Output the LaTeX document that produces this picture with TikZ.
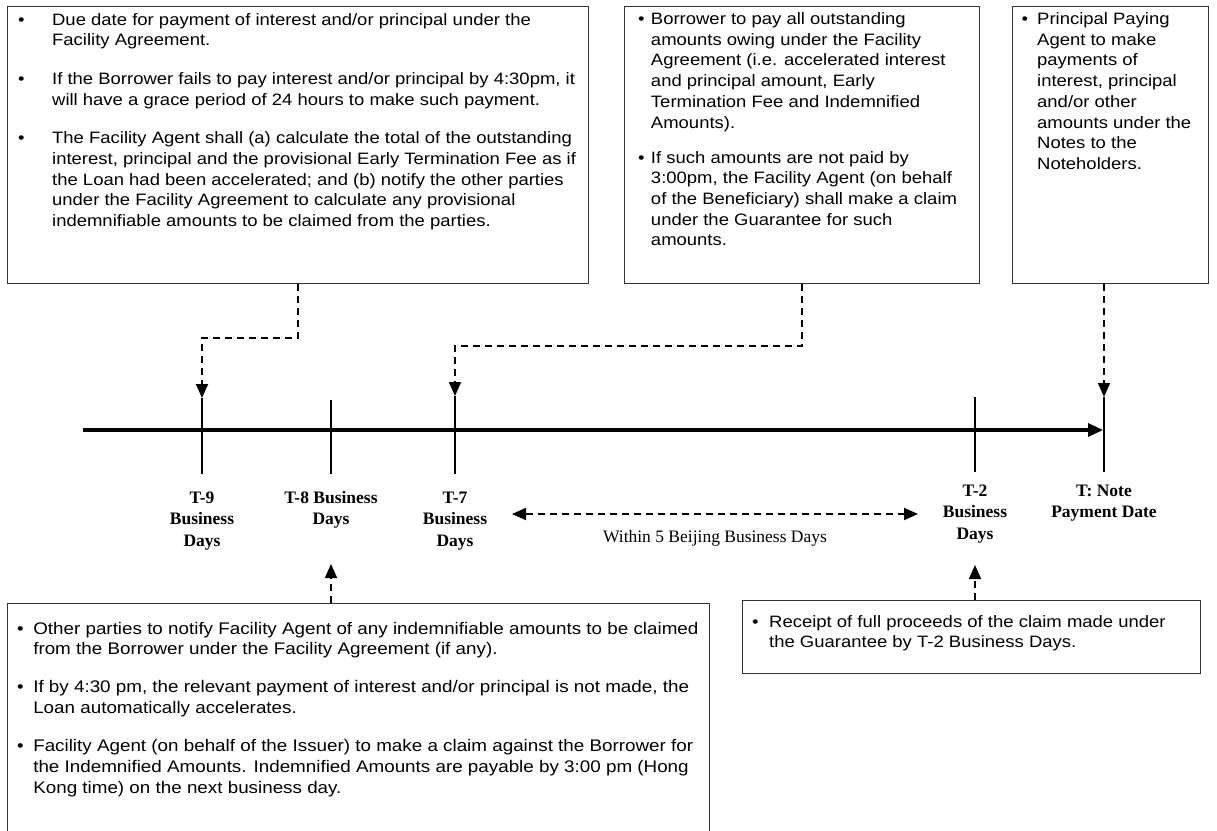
\documentclass[tikz,border=0pt]{standalone}
\usepackage{fontspec}
\setmainfont{Liberation Serif}
\newfontfamily\boxfont[FakeStretch=1.12]{Liberation Sans}
\usetikzlibrary{arrows.meta}

% text set inside the call-out boxes
\newcommand\boxsize{\boxfont\fontsize{16.5}{20.7}\selectfont}
\newcommand\wideboxsize{\boxfont\fontsize{16.8}{20.7}\selectfont}

\begin{document}
\begin{tikzpicture}[x=1pt,y=-1pt,
  calloutbox/.style={draw=black!80, line width=1.1pt, anchor=north west, inner sep=0pt, fill=white},
  boxtext/.style={anchor=base west, inner sep=0pt, font=\boxsize},
  daylabel/.style={anchor=base, inner sep=0pt, font=\fontsize{17.5}{21.8}\selectfont\bfseries},
  axisline/.style={line width=3.2pt, -{Triangle[length=15pt,width=13pt]}},
  tickline/.style={line width=1.8pt},
  leader/.style={line width=1.8pt, dash pattern=on 7pt off 5pt, -{Triangle[length=14pt,width=12pt]}},
  spanline/.style={line width=1.8pt, dash pattern=on 7pt off 5pt,
    {Triangle[length=14pt,width=12pt]}-{Triangle[length=14pt,width=12pt]}}
]
\useasboundingbox (0,0) rectangle (1217,830);
\clip (0,0) rectangle (1217,830);
\fill[white] (0,0) rectangle (1217,830);

% ---- time axis and day ticks ----
\coordinate (axS) at (83,430);
\coordinate (axE) at (1103,430);
\draw[axisline] (axS) -- (axE);

\coordinate (t9u) at (202,398);  \coordinate (t9d) at (202,474);
\coordinate (t8u) at (331,400);  \coordinate (t8d) at (331,474);
\coordinate (t7u) at (455,396);  \coordinate (t7d) at (455,474);
\coordinate (t2u) at (975,397);  \coordinate (t2d) at (975,472);
\coordinate (tTu) at (1104,397); \coordinate (tTd) at (1104,472);
\foreach \t in {9,8,7,2,T} \draw[tickline] (t\t u) -- (t\t d);

% ---- day labels ----
\node[daylabel] (l9) at (202,503) {\begin{tabular}[t]{@{}c@{}}T-9\\Business\\Days\end{tabular}};
\node[daylabel] (l8) at (331,503) {\begin{tabular}[t]{@{}c@{}}T-8 Business\\Days\end{tabular}};
\node[daylabel] (l7) at (455,503) {\begin{tabular}[t]{@{}c@{}}T-7\\Business\\Days\end{tabular}};
\node[daylabel] (l2) at (975,496) {\begin{tabular}[t]{@{}c@{}}T-2\\Business\\Days\end{tabular}};
\node[daylabel] (lT) at (1104,496) {\begin{tabular}[t]{@{}c@{}}T: Note\\Payment Date\end{tabular}};

% ---- five-day window between T-7 and T-2 ----
\coordinate (w1) at (512,514);
\coordinate (w2) at (918,514);
\draw[spanline] (w1) -- (w2);
\node[anchor=base, inner sep=0pt, font=\fontsize{17.5}{21}\selectfont] (win) at (715,542) {Within 5 Beijing Business Days};

% ---- call-out boxes ----
\node[calloutbox, minimum width=581pt, minimum height=277pt] (b1) at (7,6) {};
\node[boxtext] (b1t) at (17.8,25) {\begin{tabular}[t]{@{}l@{\hspace{27.7pt}}l@{}}
\textbullet & Due date for payment of interest and/or principal under the\\
 & Facility Agreement.\\[18pt]
\textbullet & If the Borrower fails to pay interest and/or principal by 4:30pm, it\\
 & will have a grace period of 24 hours to make such payment.\\[18pt]
\textbullet & The Facility Agent shall (a) calculate the total of the outstanding\\
 & interest, principal and the provisional Early Termination Fee as if\\
 & the Loan had been accelerated; and (b) notify the other parties\\
 & under the Facility Agreement to calculate any provisional\\
 & indemnifiable amounts to be claimed from the parties.
\end{tabular}};

\node[calloutbox, minimum width=355pt, minimum height=277pt] (b2) at (624,6) {};
\node[boxtext] (b2t) at (637.8,24.5) {\begin{tabular}[t]{@{}l@{\hspace{6.5pt}}l@{}}
\textbullet & Borrower to pay all outstanding\\
 & amounts owing under the Facility\\
 & Agreement (i.e. accelerated interest\\
 & and principal amount, Early\\
 & Termination Fee and Indemnified\\
 & Amounts).\\[14.4pt]
\textbullet & If such amounts are not paid by\\
 & 3:00pm, the Facility Agent (on behalf\\
 & of the Beneficiary) shall make a claim\\
 & under the Guarantee for such\\
 & amounts.
\end{tabular}};

\node[calloutbox, minimum width=196pt, minimum height=277pt] (b3) at (1012,6) {};
\node[boxtext] (b3t) at (1021.5,24.5) {\begin{tabular}[t]{@{}l@{\hspace{9pt}}l@{}}
\textbullet & Principal Paying\\
 & Agent to make\\
 & payments of\\
 & interest, principal\\
 & and/or other\\
 & amounts under the\\
 & Notes to the\\
 & Noteholders.
\end{tabular}};

\node[calloutbox, minimum width=702pt, minimum height=300pt] (b4) at (7,603) {};
\node[boxtext, font=\wideboxsize] (b4t) at (16.8,634) {\begin{tabular}[t]{@{}l@{\hspace{9.7pt}}l@{}}
\textbullet & Other parties to notify Facility Agent of any indemnifiable amounts to be claimed\\
 & from the Borrower under the Facility Agreement (if any).\\[17.5pt]
\textbullet & If by 4:30 pm, the relevant payment of interest and/or principal is not made, the\\
 & Loan automatically accelerates.\\[17.5pt]
\textbullet & Facility Agent (on behalf of the Issuer) to make a claim against the Borrower for\\
 & the Indemnified Amounts. Indemnified Amounts are payable by 3:00 pm (Hong\\
 & Kong time) on the next business day.
\end{tabular}};

\node[calloutbox, minimum width=458pt, minimum height=73pt] (b5) at (742,600) {};
\node[boxtext] (b5t) at (751.8,627) {\begin{tabular}[t]{@{}l@{\hspace{10.7pt}}l@{}}
\textbullet & Receipt of full proceeds of the claim made under\\
 & the Guarantee by T-2 Business Days.
\end{tabular}};

% ---- leaders from the boxes to the ticks ----
\coordinate (j9) at (202,338);
\coordinate (j7) at (455,346);
\draw[leader] (b1.south) |- (j9) -- (t9u);
\draw[leader] (b2.south) |- (j7) -- (t7u);
\draw[leader] (tTu |- b3.south) -- (tTu);

\coordinate (a8) at (331,564);
\coordinate (a2) at (975,565);
\draw[leader] (a8 |- b4.north) -- (a8);
\draw[leader] (a2 |- b5.north) -- (a2);
\end{tikzpicture}
\end{document}
